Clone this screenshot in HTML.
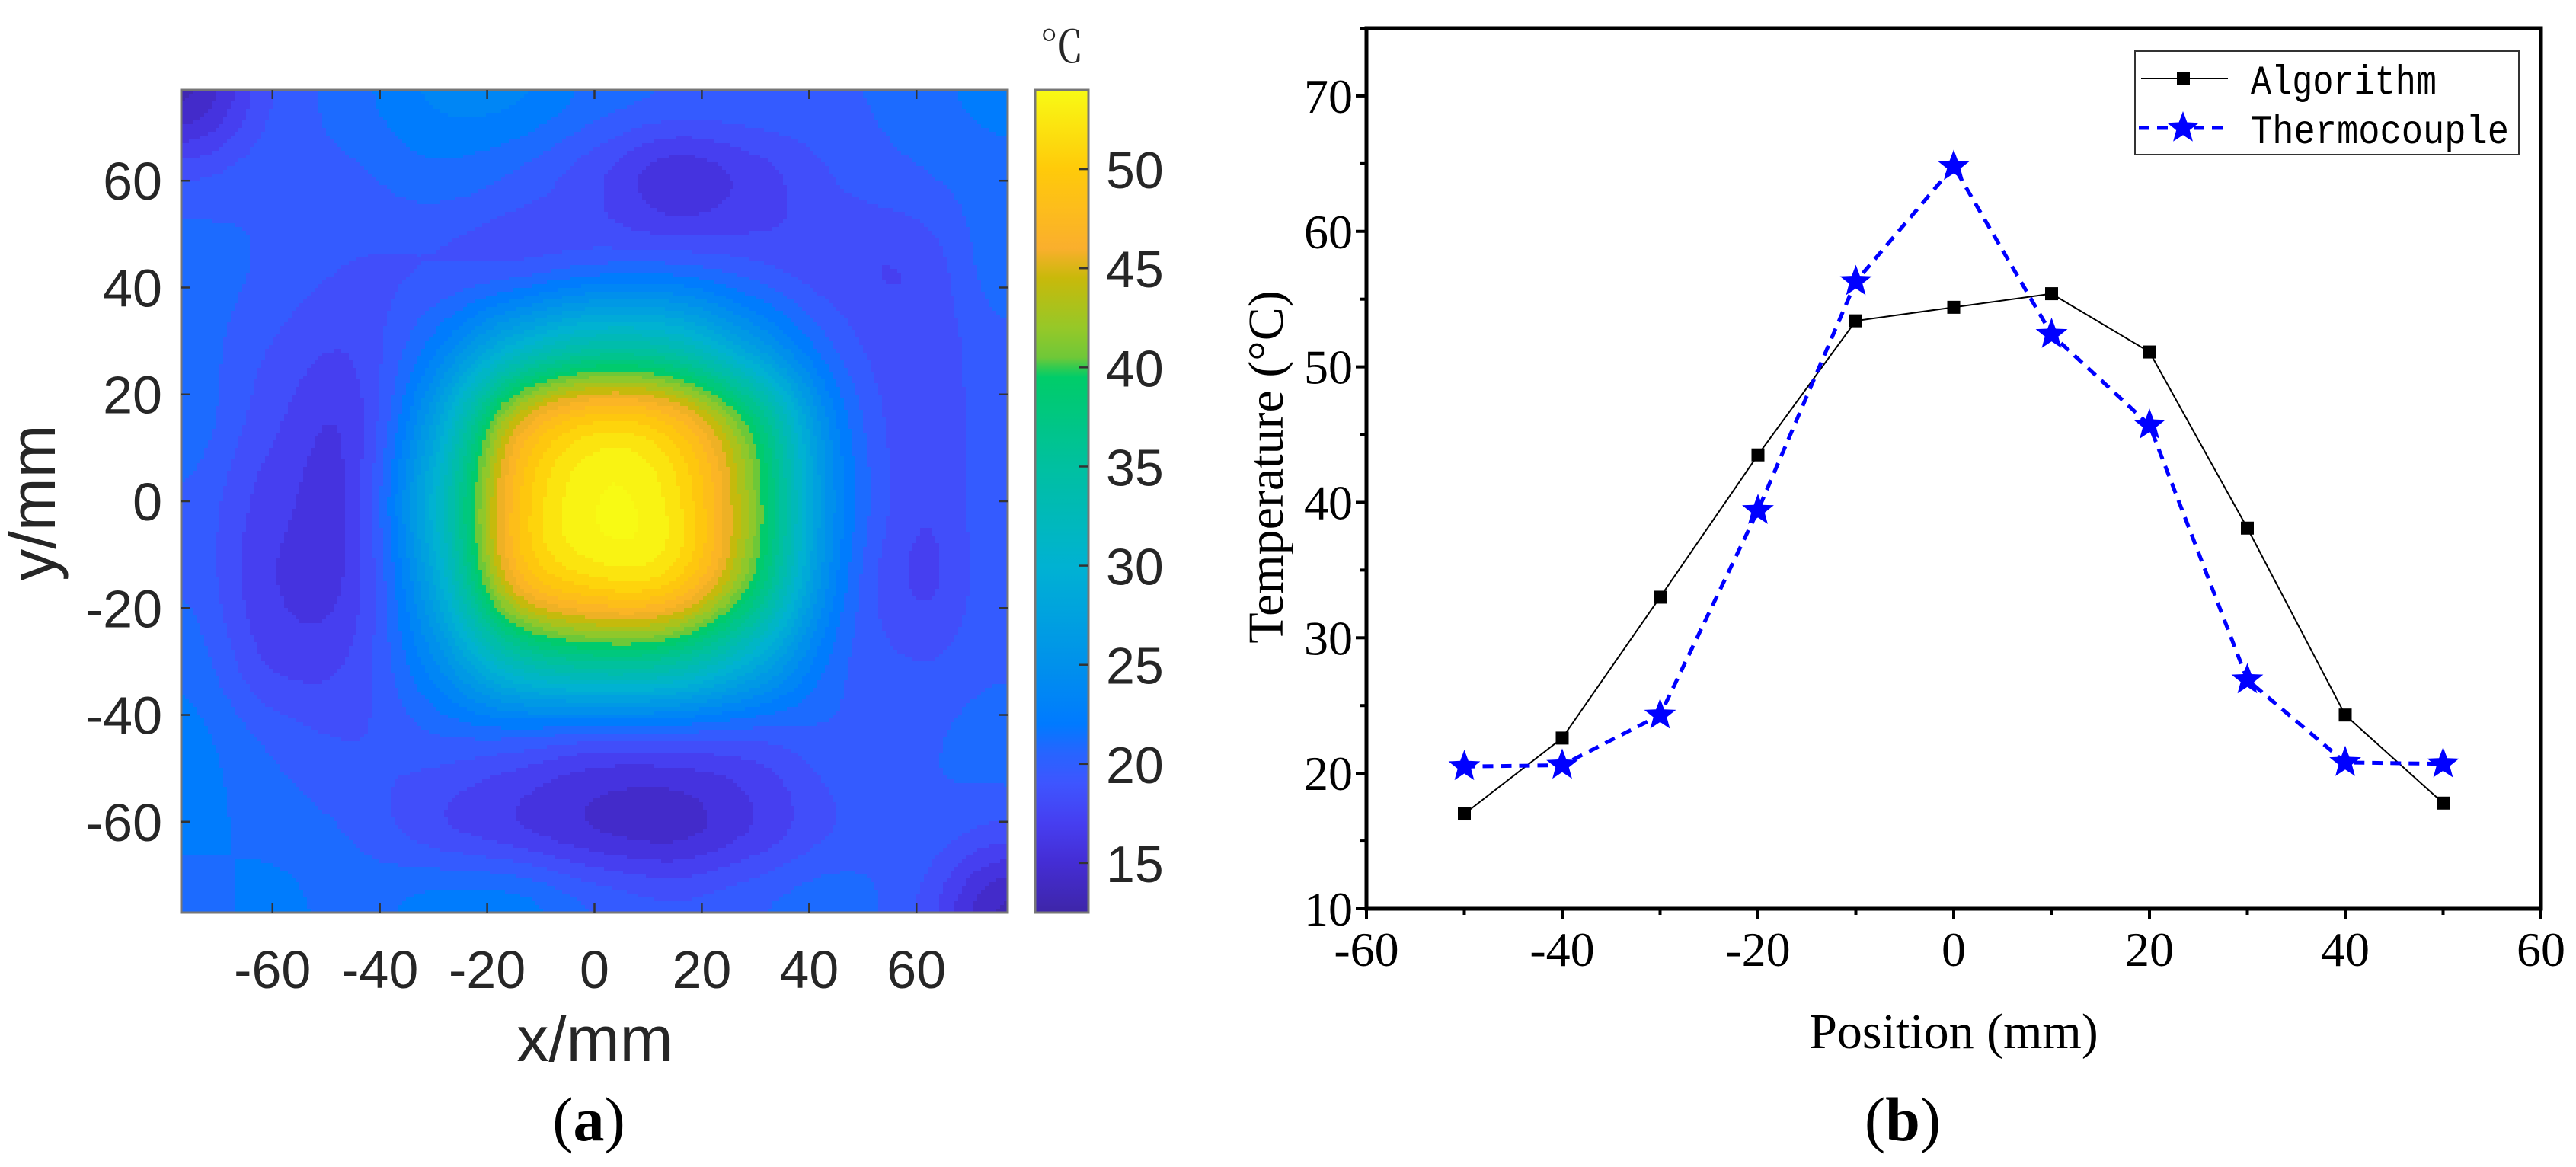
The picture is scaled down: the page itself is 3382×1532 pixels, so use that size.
<!DOCTYPE html>
<html><head><meta charset="utf-8"><style>
html,body{margin:0;padding:0;background:#fff;}
svg{display:block;}
</style></head><body>
<svg id="fig" width="3382" height="1532" viewBox="0 0 3382 1532" xmlns="http://www.w3.org/2000/svg">
<rect width="3382" height="1532" fill="#fff"/>
<g id="panelA"></g>
<g id="panelB"></g>
</svg>
<script>
// ===== Panel (a) data =====
const gridXs = [-75,-60,-45,-30,-15,0,15,30,45,60,75];
const gridYs = [75,60,45,30,15,0,-15,-30,-45,-60,-75];
const row75  = [14,19,21,23,23,21,20,20,20,21,22];
const row60  = [19,20,20,21,20,18,15.5,17,19,20,21];
const row45  = [21,20,19,19,19,20,20,19,18,18,21];
const row30  = [21,19,18,22,29,33,32,26,20,18,20];
const row15  = [21,18,17,27,44,50,48,38,23,18,20];
const row0   = [20,17,17,30,48,54,52,41,24,18,20];
const rowM15 = [20,16.5,17,28,46,51,50,39,23,17.5,20];
const rowM30 = [21,17.5,18,24,33,36,35,29,21,19,20];
const rowM45 = [22,20,19,20,20,19,19,19,20,20,21];
const rowM60 = [22,21,20,18,16.5,15,14.5,16.5,19,20,19];
const rowM75 = [21,22,21,22,22,20,19,20,21,19,14];
const heatRows = [row75,row60,row45,row30,row15,row0,rowM15,rowM30,rowM45,rowM60,rowM75];
const axisTicksA = [-60,-40,-20,0,20,40,60];
const cbarTicks = [15,20,25,30,35,40,45,50];

// ===== Panel (b) data =====
const positions = [-50,-40,-30,-20,-10,0,10,20,30,40,50];
const algorithmVals = [17.0,22.6,33.0,43.5,53.4,54.4,55.4,51.1,38.1,24.3,17.8];
const thermoVals = [20.5,20.6,24.3,39.4,56.3,64.8,52.4,45.7,26.9,20.8,20.7];
const xTicksB = [-60,-40,-20,0,20,40,60];
const yTicksB = [10,20,30,40,50,60,70];

const NS = "http://www.w3.org/2000/svg";
function mk(tag, attrs, parent){const e=document.createElementNS(NS,tag);for(const k in attrs)e.setAttribute(k,attrs[k]);parent.appendChild(e);return e;}

// ---------- Panel A ----------
const A = document.getElementById('panelA');
const aL=238,aR=1323,aT=118,aB=1198;
const xMinA=-77,xMaxA=77,yMinA=-77,yMaxA=77;
const sxA = v => aL + (v-xMinA)/(xMaxA-xMinA)*(aR-aL);
const syA = v => aB - (v-yMinA)/(yMaxA-yMinA)*(aB-aT);
const cmin=12.5,cmax=54;
const stops=[[12.5,[62,38,168]],[15,[68,45,212]],[17,[70,62,240]],[19,[62,85,255]],[20.5,[40,100,255]],[22,[0,122,255]],[25,[0,145,235]],[30,[0,178,210]],[35,[0,192,160]],[39.9,[0,205,100]],[40.1,[100,200,60]],[42,[150,200,40]],[44.5,[200,185,10]],[46,[250,175,45]],[50,[255,202,10]],[54,[248,250,20]]];
function cmap(v){
  if(v<=stops[0][0])return stops[0][1];
  for(let i=1;i<stops.length;i++){if(v<=stops[i][0]){const a=stops[i-1],b=stops[i];const t=(v-a[0])/(b[0]-a[0]);return a[1].map((c,j)=>Math.round(c+(b[1][j]-c)*t));}}
  return stops[stops.length-1][1];
}
function cr(p0,p1,p2,p3,t){return 0.5*((2*p1)+(-p0+p2)*t+(2*p0-5*p1+4*p2-p3)*t*t+(-p0+3*p1-3*p2+p3)*t*t*t);}
function gv(i,j){i=Math.max(0,Math.min(10,i));j=Math.max(0,Math.min(10,j));return heatRows[i][j];}
function interp(x,y){
  const fx=(x-gridXs[0])/15, fy=(gridYs[0]-y)/15;
  const cx=Math.max(0,Math.min(9,Math.floor(fx))), cy=Math.max(0,Math.min(9,Math.floor(fy)));
  const tx=Math.max(-0.2,Math.min(1.2,fx-cx)), ty=Math.max(-0.2,Math.min(1.2,fy-cy));
  const r=[];
  for(let k=-1;k<=2;k++){r.push(cr(gv(cy+k,cx-1),gv(cy+k,cx),gv(cy+k,cx+1),gv(cy+k,cx+2),tx));}
  return cr(r[0],r[1],r[2],r[3],ty);
}
const cellsG = mk('g',{"shape-rendering":"crispEdges"},A);


const step=5;
for(let py=aT;py<aB;py+=step){
  // merge horizontal runs of identical colour
  let runStart=aL, runCol=null;
  for(let px=aL;px<=aR;px+=step){
    let col=null;
    if(px<aR){
      const xv=xMinA+(px+step/2-aL)/(aR-aL)*(xMaxA-xMinA);
      const yv=yMinA+(aB-(py+step/2))/(aB-aT)*(yMaxA-yMinA);
      let v=interp(xv,yv);
      v=Math.floor((v-cmin)/1.3)*1.3+cmin+0.65;
      const c=cmap(v);
      col=`rgb(${c[0]},${c[1]},${c[2]})`;
    }
    if(col!==runCol){
      if(runCol!==null){
        mk('rect',{x:runStart,y:py,width:Math.min(px,aR)-runStart+0.5,height:Math.min(step,aB-py)+0.5,fill:runCol},cellsG);
      }
      runStart=px; runCol=col;
    }
  }
}
const frameA=mk('rect',{x:aL,y:aT,width:aR-aL,height:aB-aT,fill:'none',stroke:'#777',"stroke-width":3},A);


axisTicksA.forEach(t=>{
  const x=sxA(t), y=syA(t);
  mk('line',{x1:x,y1:aB,x2:x,y2:aB-12,stroke:'#333',"stroke-width":2.5},A);
  mk('line',{x1:x,y1:aT,x2:x,y2:aT+12,stroke:'#333',"stroke-width":2.5},A);
  mk('line',{x1:aL,y1:y,x2:aL+12,y2:y,stroke:'#333',"stroke-width":2.5},A);
  mk('line',{x1:aR,y1:y,x2:aR-12,y2:y,stroke:'#333',"stroke-width":2.5},A);
  const xl=mk('text',{x:x,y:1297,"text-anchor":"middle","font-family":"Liberation Sans, sans-serif","font-size":70,fill:"#262626"},A);
  xl.textContent=t; 
  
  const yl=mk('text',{x:213,y:y+25,"text-anchor":"end","font-family":"Liberation Sans, sans-serif","font-size":70,fill:"#262626"},A);
  yl.textContent=t; 
  
});
// colorbar
const cbL=1359,cbR=1429;
const scb=v=>aB-(v-cmin)/(cmax-cmin)*(aB-aT);
const defs=mk('defs',{},A);
const grad=mk('linearGradient',{id:'cbg',x1:0,y1:1,x2:0,y2:0},defs);
for(let v=cmin;v<=cmax+0.001;v+=0.5){const c=cmap(v);mk('stop',{offset:((v-cmin)/(cmax-cmin)).toFixed(4),"stop-color":`rgb(${c[0]},${c[1]},${c[2]})`},grad);}
const cb=mk('rect',{x:cbL,y:aT,width:cbR-cbL,height:aB-aT,fill:'url(#cbg)',stroke:'#777',"stroke-width":3},A);


cbarTicks.forEach(t=>{
  const y=scb(t);
  mk('line',{x1:cbR,y1:y,x2:cbR-12,y2:y,stroke:'#333',"stroke-width":2.5},A);
  const l=mk('text',{x:1452,y:y+25,"font-family":"Liberation Sans, sans-serif","font-size":68,fill:"#262626"},A);
  l.textContent=t; 
  
});
</script>
<script>
(function(){
const A=document.getElementById('panelA');
function t(txt,attrs){const e=document.createElementNS("http://www.w3.org/2000/svg",'text');for(const k in attrs)e.setAttribute(k,attrs[k]);e.textContent=txt;A.appendChild(e);return e;}
let e;
e=t('x/mm',{x:781,y:1393,"text-anchor":"middle","font-family":"Liberation Sans, sans-serif","font-size":84,fill:"#262626"});


e=t('y/mm',{x:0,y:0,transform:"translate(72,660) rotate(-90)","text-anchor":"middle","font-family":"Liberation Sans, sans-serif","font-size":84,fill:"#262626"});


e=t('℃',{x:1394,y:82,"text-anchor":"middle","font-family":"Liberation Serif, Noto Serif CJK SC, serif","font-size":58,fill:"#262626"});


e=t('',{x:773,y:1497,"text-anchor":"middle","font-family":"Liberation Serif, serif","font-size":82,fill:"#000"});
e.innerHTML='(<tspan font-weight="bold">a</tspan>)';


})();
</script>
<script>
// ---------- Panel B ----------
const B=document.getElementById('panelB');
const bL=1794,bR=3336,bT=37,bB=1193;
const xMinB=-60,xMaxB=60,yMinB=10,yMaxB=75;
const sxB=v=>bL+(v-xMinB)/(xMaxB-xMinB)*(bR-bL);
const syB=v=>bB-(v-yMinB)/(yMaxB-yMinB)*(bB-bT);
const fr=mk('rect',{x:bL,y:bT,width:bR-bL,height:bB-bT,fill:'none',stroke:'#000',"stroke-width":5},B);


for(let v=xMinB;v<=xMaxB;v+=10){const x=sxB(v);const major=xTicksB.includes(v);mk('line',{x1:x,y1:bB,x2:x,y2:bB+(major?14:8),stroke:'#000',"stroke-width":4},B);}
for(let v=yMinB;v<=yMaxB;v+=5){const y=syB(v);const major=yTicksB.includes(v);mk('line',{x1:bL,y1:y,x2:bL-(major?14:8),y2:y,stroke:'#000',"stroke-width":4},B);}
xTicksB.forEach(v=>{
  const l=mk('text',{x:sxB(v),y:1268,"text-anchor":"middle","font-family":"Liberation Serif, serif","font-size":64,fill:"#000"},B);
  l.textContent=v; 
  
});
yTicksB.forEach(v=>{
  const l=mk('text',{x:1776,y:syB(v)+22,"text-anchor":"end","font-family":"Liberation Serif, serif","font-size":64,fill:"#000"},B);
  l.textContent=v; 
  
});
let tt=mk('text',{x:2565,y:1376,"text-anchor":"middle","font-family":"Liberation Serif, serif","font-size":66,fill:"#000"},B);
tt.textContent='Position (mm)';


tt=mk('text',{x:0,y:0,transform:"translate(1684,613) rotate(-90)","text-anchor":"middle","font-family":"Liberation Serif, serif","font-size":66,fill:"#000"},B);
tt.textContent='Temperature (°C)';


tt=mk('text',{x:2498,y:1497,"text-anchor":"middle","font-family":"Liberation Serif, serif","font-size":82,fill:"#000"},B);
tt.innerHTML='(<tspan font-weight="bold">b</tspan>)';



function starPath(cx,cy,R){const r=R*0.42;let d='';for(let i=0;i<10;i++){const a=-Math.PI/2+i*Math.PI/5;const rr=i%2?r:R;d+=(i?'L':'M')+(cx+rr*Math.cos(a)).toFixed(1)+','+(cy+rr*Math.sin(a)).toFixed(1);}return d+'Z';}

const algLine=mk('polyline',{points:positions.map((p,i)=>sxB(p)+','+syB(algorithmVals[i])).join(' '),fill:'none',stroke:'#000',"stroke-width":2},B);


const thLine=mk('polyline',{points:positions.map((p,i)=>sxB(p)+','+syB(thermoVals[i])).join(' '),fill:'none',stroke:'#0000ff',"stroke-width":5,"stroke-dasharray":"14 10"},B);


positions.forEach((p,i)=>{
  const m=mk('rect',{x:sxB(p)-8.5,y:syB(algorithmVals[i])-8.5,width:17,height:17,fill:'#000'},B);
  
  
});
positions.forEach((p,i)=>{
  const s=mk('path',{d:starPath(sxB(p),syB(thermoVals[i]),22),fill:'#0000ff'},B);
  
  
});
// legend
const lg=mk('g',{},B);


mk('rect',{x:2803,y:67,width:504,height:136,fill:'#fff',stroke:'#333',"stroke-width":2},lg);
mk('line',{x1:2811,y1:103,x2:2925,y2:103,stroke:'#000',"stroke-width":2},lg);
mk('rect',{x:2858,y:95,width:17,height:17,fill:'#000'},lg);
mk('line',{x1:2808,y1:168,x2:2925,y2:168,stroke:'#0000ff',"stroke-width":5,"stroke-dasharray":"14 10"},lg);
mk('path',{d:starPath(2866,168,22),fill:'#0000ff'},lg);
let le=mk('text',{x:2955,y:123,"font-family":"Liberation Mono, monospace","font-size":54,textLength:244,lengthAdjust:"spacingAndGlyphs",fill:'#000'},lg);
le.textContent='Algorithm';


le=mk('text',{x:2955,y:188,"font-family":"Liberation Mono, monospace","font-size":54,textLength:339,lengthAdjust:"spacingAndGlyphs",fill:'#000'},lg);
le.textContent='Thermocouple';


</script>
</body></html>
